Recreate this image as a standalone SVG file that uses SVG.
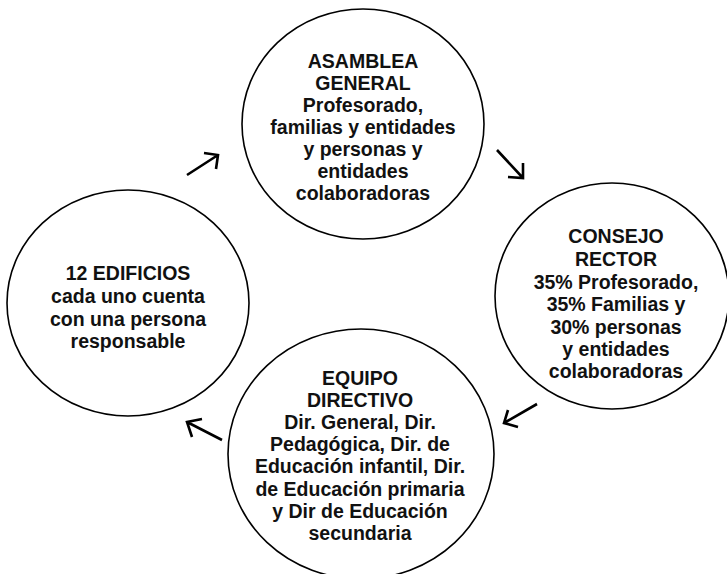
<svg xmlns="http://www.w3.org/2000/svg" width="727" height="574" viewBox="0 0 727 574">
<style>
.node{fill:#fff;stroke:#000;stroke-width:1.6}
.t{font-family:"Liberation Sans",Arial,sans-serif;font-weight:bold;font-size:19.5px;fill:#111;text-anchor:middle}
.arr{fill:none;stroke:#000;stroke-width:2.6;stroke-linecap:butt;stroke-linejoin:miter}
</style>
<rect width="727" height="574" fill="#fff"/>
<g id="asamblea">
<ellipse class="node" cx="363" cy="124" rx="121" ry="115"/>
<text class="t"><tspan x="363" y="68">ASAMBLEA</tspan><tspan x="363" y="90">GENERAL</tspan><tspan x="363" y="112">Profesorado,</tspan><tspan x="363" y="134">familias y entidades</tspan><tspan x="363" y="156">y personas y</tspan><tspan x="363" y="178">entidades</tspan><tspan x="363" y="200">colaboradoras</tspan></text>
</g>
<g id="consejo">
<ellipse class="node" cx="612" cy="296" rx="117" ry="113"/>
<text class="t"><tspan x="616" y="243">CONSEJO</tspan><tspan x="616" y="266">RECTOR</tspan><tspan x="616" y="289">35% Profesorado,</tspan><tspan x="616" y="311">35% Familias y</tspan><tspan x="616" y="334">30% personas</tspan><tspan x="616" y="356">y entidades</tspan><tspan x="616" y="378">colaboradoras</tspan></text>
</g>
<g id="equipo">
<ellipse class="node" cx="361" cy="454" rx="133" ry="125"/>
<text class="t"><tspan x="360" y="385">EQUIPO</tspan><tspan x="360" y="407">DIRECTIVO</tspan><tspan x="360" y="429">Dir. General, Dir.</tspan><tspan x="360" y="451">Pedagógica, Dir. de</tspan><tspan x="360" y="473">Educación infantil, Dir.</tspan><tspan x="360" y="496">de Educación primaria</tspan><tspan x="360" y="518">y Dir de Educación</tspan><tspan x="360" y="540">secundaria</tspan></text>
</g>
<g id="edificios">
<ellipse class="node" cx="128" cy="303" rx="121" ry="113"/>
<text class="t"><tspan x="128" y="280">12 EDIFICIOS</tspan><tspan x="128" y="303">cada uno cuenta</tspan><tspan x="128" y="326">con una persona</tspan><tspan x="128" y="348">responsable</tspan></text>
</g>
<g id="connectors">
<path class="arr" d="M187 175 L218 155 M204 153 L218 155 L216 169"/>
<path class="arr" d="M497 150 L523 178 M508 177 L523 178 L523 163"/>
<path class="arr" d="M537 404 L504 423 M508 410 L504 423 L518 427"/>
<path class="arr" d="M222 440 L187 422 M202 419 L187 422 L192 437"/>
</g>
</svg>
